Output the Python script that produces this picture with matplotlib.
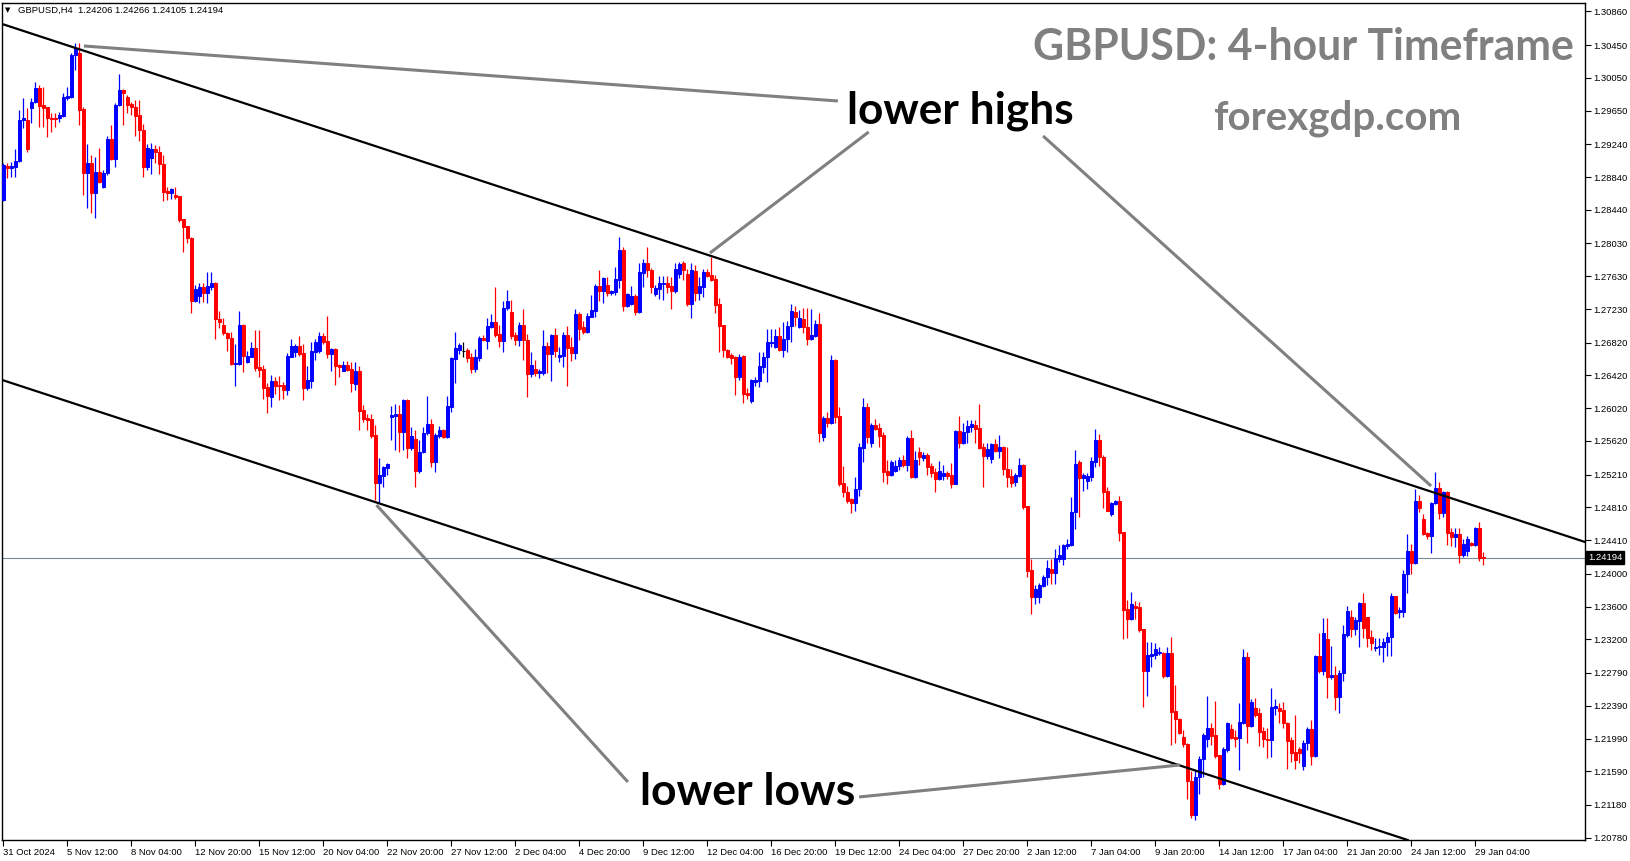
import matplotlib
matplotlib.use("Agg")
import matplotlib.pyplot as plt
import matplotlib.transforms as mtransforms
import numpy as np

# GBPUSD H4 candles, 31 Oct 2024 20:00 .. 29 Jan 2025 12:00
opens = [
    1.2856, 1.2897, 1.2895, 1.2896, 1.2904, 1.2954, 1.2954, 1.2968, 1.2976, 1.2993,
    1.2972, 1.2969, 1.2956, 1.2956, 1.2956, 1.2958, 1.2980, 1.2982, 1.3033, 1.3035,
    1.2967, 1.2889, 1.2901, 1.2865, 1.2890, 1.2872, 1.2889, 1.2930, 1.2906, 1.2972,
    1.2990, 1.2982, 1.2973, 1.2969, 1.2960, 1.2941, 1.2896, 1.2907, 1.2918, 1.2915,
    1.2900, 1.2867, 1.2865, 1.2862, 1.2861, 1.2833, 1.2824, 1.2810, 1.2733, 1.2739,
    1.2750, 1.2743, 1.2750, 1.2755, 1.2711, 1.2703, 1.2694, 1.2688, 1.2656, 1.2656,
    1.2703, 1.2658, 1.2664, 1.2675, 1.2652, 1.2650, 1.2628, 1.2616, 1.2635, 1.2630,
    1.2630, 1.2624, 1.2664, 1.2671, 1.2678, 1.2669, 1.2627, 1.2635, 1.2671, 1.2672,
    1.2690, 1.2684, 1.2668, 1.2674, 1.2655, 1.2647, 1.2655, 1.2650, 1.2632, 1.2647,
    1.2600, 1.2590, 1.2589, 1.2569, 1.2511, 1.2519, 1.2529, 1.2591, 1.2592, 1.2595,
    1.2573, 1.2612, 1.2553, 1.2564, 1.2525, 1.2549, 1.2572, 1.2583, 1.2536, 1.2568,
    1.2575, 1.2567, 1.2603, 1.2662, 1.2673, 1.2672, 1.2673, 1.2664, 1.2650, 1.2663,
    1.2688, 1.2684, 1.2701, 1.2707, 1.2693, 1.2684, 1.2724, 1.2719, 1.2691, 1.2685,
    1.2703, 1.2685, 1.2644, 1.2650, 1.2645, 1.2645, 1.2678, 1.2668, 1.2691, 1.2664,
    1.2666, 1.2691, 1.2677, 1.2669, 1.2717, 1.2701, 1.2695, 1.2713, 1.2721, 1.2751,
    1.2745, 1.2752, 1.2743, 1.2744, 1.2758, 1.2795, 1.2727, 1.2729, 1.2739, 1.2719,
    1.2767, 1.2779, 1.2771, 1.2741, 1.2747, 1.2754, 1.2755, 1.2751, 1.2745, 1.2766,
    1.2779, 1.2766, 1.2729, 1.2769, 1.2743, 1.2750, 1.2768, 1.2764, 1.2760, 1.2729,
    1.2703, 1.2673, 1.2667, 1.2664, 1.2640, 1.2666, 1.2621, 1.2611, 1.2634, 1.2635,
    1.2652, 1.2664, 1.2682, 1.2677, 1.2690, 1.2673, 1.2686, 1.2702, 1.2719, 1.2701,
    1.2711, 1.2701, 1.2686, 1.2690, 1.2705, 1.2567, 1.2590, 1.2584, 1.2661, 1.2592,
    1.2511, 1.2500, 1.2491, 1.2486, 1.2503, 1.2553, 1.2603, 1.2560, 1.2581, 1.2578,
    1.2569, 1.2525, 1.2520, 1.2525, 1.2531, 1.2539, 1.2533, 1.2566, 1.2518, 1.2549,
    1.2541, 1.2545, 1.2531, 1.2524, 1.2516, 1.2519, 1.2523, 1.2520, 1.2510, 1.2574,
    1.2560, 1.2573, 1.2579, 1.2581, 1.2578, 1.2555, 1.2544, 1.2540, 1.2558, 1.2550,
    1.2555, 1.2528, 1.2519, 1.2512, 1.2519, 1.2533, 1.2483, 1.2405, 1.2372, 1.2372,
    1.2385, 1.2396, 1.2406, 1.2401, 1.2418, 1.2418, 1.2434, 1.2435, 1.2475, 1.2536,
    1.2517, 1.2513, 1.2518, 1.2536, 1.2563, 1.2542, 1.2501, 1.2473, 1.2485, 1.2489,
    1.2451, 1.2357, 1.2345, 1.2361, 1.2359, 1.2333, 1.2281, 1.2300, 1.2301, 1.2303,
    1.2303, 1.2275, 1.2303, 1.2233, 1.2223, 1.2201, 1.2192, 1.2147, 1.2106, 1.2152,
    1.2174, 1.2198, 1.2212, 1.2203, 1.2179, 1.2144, 1.2185, 1.2211, 1.2201, 1.2200,
    1.2218, 1.2298, 1.2214, 1.2236, 1.2230, 1.2208, 1.2198, 1.2197, 1.2236, 1.2236,
    1.2234, 1.2218, 1.2197, 1.2183, 1.2186, 1.2165, 1.2194, 1.2211, 1.2178, 1.2300,
    1.2281, 1.2320, 1.2274, 1.2276, 1.2250, 1.2279, 1.2325, 1.2347, 1.2333, 1.2342,
    1.2364, 1.2347, 1.2323, 1.2310, 1.2311, 1.2311, 1.2317, 1.2323, 1.2373, 1.2353,
    1.2353, 1.2400, 1.2428, 1.2413, 1.2489, 1.2467, 1.2450, 1.2446, 1.2486, 1.2505,
    1.2474, 1.2500, 1.2451, 1.2445, 1.2449, 1.2423, 1.2428, 1.2438, 1.2435, 1.2456,
    1.24206,
]
highs = [
    1.2901, 1.2901, 1.2902, 1.2918, 1.2966, 1.2980, 1.2968, 1.2980, 1.3000, 1.2996,
    1.2994, 1.2969, 1.2962, 1.2962, 1.2963, 1.2987, 1.2994, 1.3035, 1.3048, 1.3048,
    1.2969, 1.2924, 1.2911, 1.2908, 1.2919, 1.2893, 1.2934, 1.2947, 1.2974, 1.3010,
    1.2991, 1.2984, 1.2976, 1.2978, 1.2978, 1.2949, 1.2924, 1.2926, 1.2923, 1.2922,
    1.2911, 1.2872, 1.2871, 1.2872, 1.2861, 1.2833, 1.2824, 1.2811, 1.2752, 1.2755,
    1.2755, 1.2768, 1.2768, 1.2756, 1.2721, 1.2712, 1.2695, 1.2695, 1.2680, 1.2721,
    1.2705, 1.2672, 1.2683, 1.2697, 1.2697, 1.2655, 1.2633, 1.2642, 1.2640, 1.2641,
    1.2634, 1.2669, 1.2686, 1.2680, 1.2690, 1.2680, 1.2653, 1.2683, 1.2686, 1.2695,
    1.2694, 1.2714, 1.2675, 1.2675, 1.2656, 1.2660, 1.2660, 1.2658, 1.2658, 1.2653,
    1.2606, 1.2595, 1.2595, 1.2581, 1.2541, 1.2531, 1.2535, 1.2605, 1.2607, 1.2606,
    1.2613, 1.2613, 1.2579, 1.2575, 1.2563, 1.2579, 1.2617, 1.2589, 1.2572, 1.2580,
    1.2577, 1.2617, 1.2664, 1.2695, 1.2682, 1.2683, 1.2675, 1.2669, 1.2674, 1.2690,
    1.2691, 1.2712, 1.2717, 1.2750, 1.2703, 1.2733, 1.2746, 1.2734, 1.2695, 1.2707,
    1.2723, 1.2693, 1.2671, 1.2661, 1.2650, 1.2697, 1.2683, 1.2693, 1.2700, 1.2677,
    1.2695, 1.2702, 1.2689, 1.2723, 1.2719, 1.2708, 1.2718, 1.2740, 1.2754, 1.2771,
    1.2762, 1.2762, 1.2746, 1.2774, 1.2811, 1.2799, 1.2743, 1.2751, 1.2741, 1.2779,
    1.2784, 1.2799, 1.2773, 1.2752, 1.2763, 1.2763, 1.2763, 1.2762, 1.2779, 1.2780,
    1.2782, 1.2772, 1.2779, 1.2777, 1.2762, 1.2772, 1.2772, 1.2786, 1.2764, 1.2736,
    1.2703, 1.2674, 1.2669, 1.2666, 1.2668, 1.2667, 1.2627, 1.2638, 1.2640, 1.2671,
    1.2671, 1.2699, 1.2699, 1.2699, 1.2701, 1.2707, 1.2708, 1.2729, 1.2727, 1.2722,
    1.2724, 1.2724, 1.2723, 1.2710, 1.2718, 1.2592, 1.2597, 1.2667, 1.2662, 1.2603,
    1.2531, 1.2507, 1.2492, 1.2518, 1.2560, 1.2614, 1.2608, 1.2584, 1.2589, 1.2584,
    1.2573, 1.2539, 1.2539, 1.2539, 1.2542, 1.2545, 1.2568, 1.2575, 1.2550, 1.2555,
    1.2549, 1.2547, 1.2535, 1.2529, 1.2538, 1.2533, 1.2525, 1.2535, 1.2575, 1.2592,
    1.2584, 1.2588, 1.2588, 1.2588, 1.2607, 1.2560, 1.2560, 1.2560, 1.2564, 1.2569,
    1.2556, 1.2555, 1.2528, 1.2523, 1.2541, 1.2534, 1.2483, 1.2418, 1.2386, 1.2389,
    1.2398, 1.2417, 1.2418, 1.2430, 1.2435, 1.2436, 1.2442, 1.2494, 1.2551, 1.2539,
    1.2523, 1.2523, 1.2542, 1.2577, 1.2571, 1.2545, 1.2506, 1.2488, 1.2490, 1.2495,
    1.2451, 1.2368, 1.2378, 1.2367, 1.2366, 1.2333, 1.2317, 1.2317, 1.2316, 1.2311,
    1.2305, 1.2311, 1.2323, 1.2264, 1.2224, 1.2209, 1.2194, 1.2159, 1.2161, 1.2178,
    1.2206, 1.2251, 1.2218, 1.2245, 1.2179, 1.2189, 1.2219, 1.2217, 1.2209, 1.2242,
    1.2308, 1.2305, 1.2247, 1.2248, 1.2236, 1.2213, 1.2212, 1.2261, 1.2247, 1.2242,
    1.2244, 1.2219, 1.2201, 1.2228, 1.2189, 1.2197, 1.2213, 1.2222, 1.2301, 1.2328,
    1.2346, 1.2346, 1.2312, 1.2287, 1.2283, 1.2337, 1.2361, 1.2356, 1.2347, 1.2366,
    1.2377, 1.2347, 1.2331, 1.2322, 1.2322, 1.2322, 1.2329, 1.2377, 1.2373, 1.2359,
    1.2405, 1.2449, 1.2436, 1.2503, 1.2496, 1.2473, 1.2451, 1.2488, 1.2524, 1.2512,
    1.2501, 1.2501, 1.2456, 1.2456, 1.2456, 1.2442, 1.2446, 1.2439, 1.2457, 1.2463,
    1.24266,
]
lows = [
    1.2855, 1.2883, 1.2884, 1.2884, 1.2902, 1.2944, 1.2915, 1.2950, 1.2974, 1.2945,
    1.2945, 1.2933, 1.2939, 1.2945, 1.2951, 1.2957, 1.2978, 1.2980, 1.3015, 1.2947,
    1.2862, 1.2846, 1.2840, 1.2834, 1.2877, 1.2871, 1.2886, 1.2905, 1.2896, 1.2971,
    1.2947, 1.2962, 1.2960, 1.2934, 1.2928, 1.2884, 1.2893, 1.2888, 1.2901, 1.2888,
    1.2855, 1.2856, 1.2857, 1.2857, 1.2829, 1.2793, 1.2804, 1.2718, 1.2732, 1.2730,
    1.2732, 1.2730, 1.2746, 1.2686, 1.2700, 1.2691, 1.2672, 1.2655, 1.2629, 1.2655,
    1.2646, 1.2657, 1.2664, 1.2647, 1.2640, 1.2613, 1.2596, 1.2603, 1.2619, 1.2612,
    1.2613, 1.2618, 1.2664, 1.2664, 1.2666, 1.2612, 1.2624, 1.2627, 1.2661, 1.2669,
    1.2680, 1.2663, 1.2647, 1.2630, 1.2640, 1.2647, 1.2647, 1.2622, 1.2624, 1.2575,
    1.2585, 1.2575, 1.2566, 1.2490, 1.2486, 1.2506, 1.2520, 1.2563, 1.2551, 1.2549,
    1.2551, 1.2541, 1.2551, 1.2506, 1.2523, 1.2547, 1.2569, 1.2530, 1.2524, 1.2566,
    1.2566, 1.2566, 1.2597, 1.2633, 1.2668, 1.2664, 1.2658, 1.2645, 1.2646, 1.2660,
    1.2684, 1.2674, 1.2700, 1.2689, 1.2677, 1.2671, 1.2722, 1.2686, 1.2679, 1.2678,
    1.2661, 1.2616, 1.2640, 1.2641, 1.2639, 1.2642, 1.2645, 1.2635, 1.2664, 1.2658,
    1.2652, 1.2629, 1.2660, 1.2662, 1.2685, 1.2693, 1.2694, 1.2713, 1.2713, 1.2733,
    1.2730, 1.2739, 1.2740, 1.2740, 1.2749, 1.2721, 1.2725, 1.2728, 1.2716, 1.2718,
    1.2750, 1.2762, 1.2743, 1.2739, 1.2735, 1.2734, 1.2743, 1.2723, 1.2743, 1.2761,
    1.2758, 1.2727, 1.2712, 1.2733, 1.2734, 1.2738, 1.2762, 1.2757, 1.2718, 1.2671,
    1.2664, 1.2663, 1.2656, 1.2618, 1.2636, 1.2608, 1.2613, 1.2608, 1.2629, 1.2628,
    1.2645, 1.2634, 1.2677, 1.2675, 1.2672, 1.2664, 1.2671, 1.2683, 1.2702, 1.2700,
    1.2694, 1.2679, 1.2685, 1.2689, 1.2561, 1.2562, 1.2579, 1.2583, 1.2584, 1.2507,
    1.2494, 1.2486, 1.2474, 1.2477, 1.2495, 1.2536, 1.2560, 1.2555, 1.2575, 1.2555,
    1.2512, 1.2510, 1.2519, 1.2524, 1.2527, 1.2530, 1.2525, 1.2517, 1.2517, 1.2533,
    1.2538, 1.2520, 1.2518, 1.2500, 1.2514, 1.2514, 1.2516, 1.2505, 1.2509, 1.2553,
    1.2558, 1.2560, 1.2573, 1.2560, 1.2552, 1.2506, 1.2540, 1.2535, 1.2549, 1.2541,
    1.2520, 1.2506, 1.2506, 1.2507, 1.2518, 1.2479, 1.2396, 1.2351, 1.2363, 1.2364,
    1.2384, 1.2386, 1.2388, 1.2388, 1.2414, 1.2411, 1.2430, 1.2434, 1.2455, 1.2469,
    1.2501, 1.2503, 1.2513, 1.2530, 1.2531, 1.2480, 1.2476, 1.2470, 1.2484, 1.2440,
    1.2320, 1.2322, 1.2344, 1.2345, 1.2329, 1.2237, 1.2251, 1.2286, 1.2296, 1.2301,
    1.2273, 1.2274, 1.2191, 1.2194, 1.2205, 1.2189, 1.2125, 1.2102, 1.2100, 1.2131,
    1.2152, 1.2189, 1.2191, 1.2175, 1.2137, 1.2142, 1.2183, 1.2198, 1.2189, 1.2161,
    1.2217, 1.2194, 1.2213, 1.2225, 1.2190, 1.2189, 1.2175, 1.2176, 1.2228, 1.2218,
    1.2212, 1.2162, 1.2170, 1.2162, 1.2169, 1.2161, 1.2185, 1.2167, 1.2176, 1.2279,
    1.2276, 1.2248, 1.2272, 1.2234, 1.2230, 1.2269, 1.2323, 1.2323, 1.2325, 1.2311,
    1.2322, 1.2311, 1.2307, 1.2306, 1.2301, 1.2292, 1.2300, 1.2300, 1.2351, 1.2346,
    1.2347, 1.2377, 1.2400, 1.2412, 1.2475, 1.2447, 1.2442, 1.2425, 1.2485, 1.2467,
    1.2469, 1.2435, 1.2434, 1.2433, 1.2413, 1.2420, 1.2422, 1.2434, 1.2434, 1.2416,
    1.24105,
]
closes = [
    1.2899, 1.2895, 1.2897, 1.2904, 1.2954, 1.2956, 1.2918, 1.2976, 1.2993, 1.2971,
    1.2968, 1.2956, 1.2955, 1.2955, 1.2960, 1.2982, 1.2983, 1.3033, 1.3041, 1.2966,
    1.2889, 1.2901, 1.2865, 1.2890, 1.2878, 1.2889, 1.2930, 1.2906, 1.2972, 1.2990,
    1.2987, 1.2972, 1.2969, 1.2958, 1.2941, 1.2896, 1.2919, 1.2918, 1.2915, 1.2900,
    1.2866, 1.2865, 1.2869, 1.2860, 1.2832, 1.2823, 1.2810, 1.2733, 1.2747, 1.2750,
    1.2743, 1.2751, 1.2755, 1.2711, 1.2707, 1.2694, 1.2688, 1.2656, 1.2657, 1.2703,
    1.2666, 1.2666, 1.2675, 1.2651, 1.2649, 1.2627, 1.2617, 1.2635, 1.2629, 1.2629,
    1.2624, 1.2666, 1.2678, 1.2678, 1.2668, 1.2627, 1.2636, 1.2672, 1.2683, 1.2690,
    1.2683, 1.2668, 1.2674, 1.2653, 1.2652, 1.2655, 1.2649, 1.2633, 1.2647, 1.2599,
    1.2589, 1.2588, 1.2568, 1.2511, 1.2520, 1.2530, 1.2534, 1.2594, 1.2595, 1.2573,
    1.2612, 1.2553, 1.2568, 1.2525, 1.2549, 1.2572, 1.2583, 1.2536, 1.2569, 1.2575,
    1.2567, 1.2605, 1.2663, 1.2675, 1.2679, 1.2672, 1.2663, 1.2650, 1.2664, 1.2688,
    1.2685, 1.2702, 1.2707, 1.2691, 1.2684, 1.2724, 1.2733, 1.2690, 1.2685, 1.2703,
    1.2685, 1.2644, 1.2655, 1.2645, 1.2647, 1.2678, 1.2668, 1.2691, 1.2672, 1.2667,
    1.2691, 1.2675, 1.2669, 1.2717, 1.2699, 1.2695, 1.2714, 1.2722, 1.2751, 1.2745,
    1.2761, 1.2743, 1.2745, 1.2760, 1.2795, 1.2727, 1.2741, 1.2739, 1.2719, 1.2768,
    1.2779, 1.2771, 1.2750, 1.2749, 1.2755, 1.2755, 1.2750, 1.2745, 1.2772, 1.2778,
    1.2771, 1.2729, 1.2771, 1.2743, 1.2751, 1.2768, 1.2763, 1.2758, 1.2728, 1.2702,
    1.2673, 1.2664, 1.2663, 1.2640, 1.2664, 1.2619, 1.2618, 1.2636, 1.2636, 1.2653,
    1.2664, 1.2683, 1.2683, 1.2690, 1.2673, 1.2686, 1.2702, 1.2721, 1.2713, 1.2712,
    1.2701, 1.2686, 1.2691, 1.2705, 1.2572, 1.2590, 1.2584, 1.2661, 1.2591, 1.2510,
    1.2500, 1.2489, 1.2486, 1.2503, 1.2555, 1.2603, 1.2567, 1.2581, 1.2577, 1.2568,
    1.2524, 1.2520, 1.2536, 1.2531, 1.2539, 1.2533, 1.2566, 1.2518, 1.2539, 1.2542,
    1.2545, 1.2530, 1.2523, 1.2516, 1.2525, 1.2523, 1.2519, 1.2510, 1.2574, 1.2560,
    1.2573, 1.2580, 1.2583, 1.2577, 1.2553, 1.2544, 1.2552, 1.2558, 1.2550, 1.2555,
    1.2528, 1.2518, 1.2511, 1.2520, 1.2533, 1.2481, 1.2403, 1.2372, 1.2381, 1.2386,
    1.2396, 1.2407, 1.2401, 1.2419, 1.2423, 1.2435, 1.2436, 1.2475, 1.2534, 1.2517,
    1.2520, 1.2519, 1.2538, 1.2563, 1.2542, 1.2500, 1.2477, 1.2486, 1.2489, 1.2450,
    1.2356, 1.2345, 1.2363, 1.2358, 1.2331, 1.2281, 1.2301, 1.2302, 1.2308, 1.2305,
    1.2275, 1.2303, 1.2231, 1.2223, 1.2206, 1.2192, 1.2147, 1.2106, 1.2152, 1.2174,
    1.2203, 1.2212, 1.2202, 1.2178, 1.2144, 1.2186, 1.2218, 1.2200, 1.2199, 1.2219,
    1.2298, 1.2214, 1.2244, 1.2228, 1.2207, 1.2198, 1.2197, 1.2237, 1.2239, 1.2233,
    1.2218, 1.2196, 1.2181, 1.2173, 1.2181, 1.2194, 1.2211, 1.2178, 1.2300, 1.2281,
    1.2328, 1.2274, 1.2276, 1.2250, 1.2279, 1.2327, 1.2355, 1.2333, 1.2344, 1.2364,
    1.2334, 1.2322, 1.2316, 1.2311, 1.2312, 1.2317, 1.2323, 1.2373, 1.2352, 1.2356,
    1.2400, 1.2428, 1.2413, 1.2489, 1.2480, 1.2449, 1.2446, 1.2486, 1.2505, 1.2474,
    1.2500, 1.2450, 1.2445, 1.2449, 1.2423, 1.2436, 1.2442, 1.2435, 1.2456, 1.2419,
    1.24194,
]

# every 16th bar gets a time label
time_labels = [
    "31 Oct 2024", "5 Nov 12:00", "8 Nov 04:00", "12 Nov 20:00", "15 Nov 12:00",
    "20 Nov 04:00", "22 Nov 20:00", "27 Nov 12:00", "2 Dec 04:00", "4 Dec 20:00",
    "9 Dec 12:00", "12 Dec 04:00", "16 Dec 20:00", "19 Dec 12:00", "24 Dec 04:00",
    "27 Dec 20:00", "2 Jan 12:00", "7 Jan 04:00", "9 Jan 20:00", "14 Jan 12:00",
    "17 Jan 04:00", "21 Jan 20:00", "24 Jan 12:00", "29 Jan 04:00",
]
price_labels = [
    "1.30860", "1.30450", "1.30050", "1.29650", "1.29240", "1.28840", "1.28440",
    "1.28030", "1.27630", "1.27230", "1.26820", "1.26420", "1.26020", "1.25620",
    "1.25210", "1.24810", "1.24410", "1.24000", "1.23600", "1.23200", "1.22790",
    "1.22390", "1.21990", "1.21590", "1.21180", "1.20780",
]

# channel lines (bar index, price)
upper_channel = [(0, 1.30702), (370, 1.24793)]
lower_channel = [(0, 1.26359), (370, 1.20449)]
# grey pointer lines (bar index, price)
pointers = [
    [(20.1, 1.30439), (208.6, 1.29768)],
    [(216.3, 1.29390), (176.6, 1.27913)],
    [(259.9, 1.29341), (356.9, 1.25071)],
    [(156.1, 1.21460), (93.25, 1.24839)],
    [(213.9, 1.21277), (294.1, 1.21667)],
]

W, H = 1631, 861
fig = plt.figure(figsize=(W / 100, H / 100), dpi=100)
ax = fig.add_axes([2 / W, 21 / H, 1583 / W, 837 / H])

o = np.array(opens)
hi = np.array(highs)
lo = np.array(lows)
c = np.array(closes)
x = np.arange(len(c))
cols = np.where(c > o, "#0000ff", np.where(c < o, "#ff0000", "#000000"))

ax.vlines(x, lo, hi, colors=cols, linewidth=0.9, zorder=3)
ax.bar(x, np.abs(c - o), bottom=np.minimum(o, c), width=0.62, color=cols,
       edgecolor=cols, linewidth=0.7, zorder=4)

ax.axhline(closes[-1], color="#778899", lw=0.8, zorder=2)

for p1, p2 in (upper_channel, lower_channel):
    ax.axline(p1, p2, color="black", lw=1.6, zorder=5)
for (x1, y1), (x2, y2) in pointers:
    ax.plot([x1, x2], [y1, y2], color="#808080", lw=2.2, solid_capstyle="butt", zorder=5)

ax.set_xlim(-0.375, 395.375)
ax.set_ylim(1.20752, 1.309634)

ax.set_xticks(np.arange(len(time_labels)) * 16)
ax.set_xticklabels(time_labels, fontsize=6.8, family="Liberation Sans", ha="left")
ax.tick_params(axis="x", direction="out", length=4, width=0.8, pad=2)

ax.yaxis.tick_right()
ax.set_yticks([float(v) for v in price_labels])
ax.set_yticklabels(price_labels, fontsize=6.8, family="Liberation Sans")
ax.tick_params(axis="y", direction="out", length=4, width=0.8, pad=2)

for s in ax.spines.values():
    s.set_color("black")
    s.set_linewidth(1)

trans = mtransforms.blended_transform_factory(ax.transAxes, ax.transData)
ax.text(1.002, closes[-1], f"{closes[-1]:.5f}", transform=trans, ha="left", va="center",
        fontsize=6.8, family="Liberation Sans", color="white", clip_on=False,
        bbox=dict(boxstyle="square,pad=0.2", fc="black", ec="black"))

header = "GBPUSD,H4  {:.5f} {:.5f} {:.5f} {:.5f}".format(opens[-1], highs[-1], lows[-1], closes[-1])
fig.text(5 / W, 1 - 10 / H, "\u25bc", fontsize=5, va="center", ha="left", color="black")
fig.text(18 / W, 1 - 10 / H, header, fontsize=6.8, family="Liberation Sans",
         va="center", ha="left", color="black")

fig.text(1303 / W, 1 - 47 / H, "GBPUSD: 4-hour Timeframe", fontsize=30.8, family="Lato",
         weight="bold", color="#808080", ha="center", va="center")
fig.text(1337 / W, 1 - 118 / H, "forexgdp.com", fontsize=29, family="Lato",
         weight="bold", color="#808080", ha="center", va="center")
fig.text(960 / W, 1 - 111 / H, "lower highs", fontsize=31.8, family="Lato",
         weight="bold", color="black", ha="center", va="center")
fig.text(748 / W, 1 - 792 / H, "lower lows", fontsize=32, family="Lato",
         weight="bold", color="black", ha="center", va="center")

fig.savefig("out.png", dpi=100, facecolor="white")
